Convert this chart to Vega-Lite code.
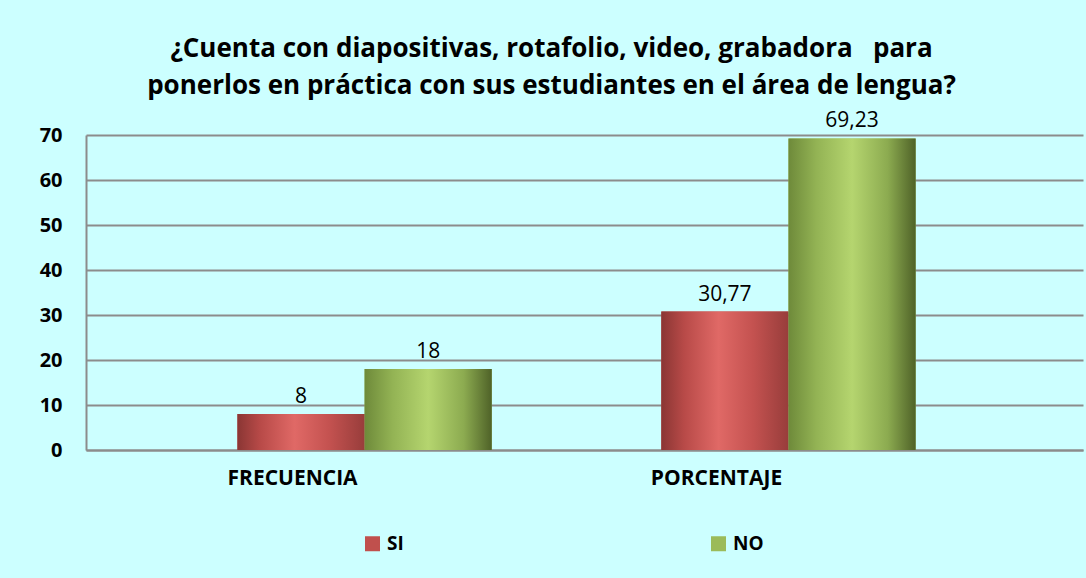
{
  "$schema": "https://vega.github.io/schema/vega-lite/v6.json",
  "width": 997,
  "height": 315,
  "autosize": {"type": "none"},
  "padding": {"left": 86, "top": 135, "right": 3, "bottom": 128},
  "background": "#CCFFFF",
  "config": {"view": {"stroke": null}, "font": "Open Sans"},
  "title": {
    "text": ["¿Cuenta con diapositivas, rotafolio, video, grabadora\u00a0\u00a0\u00a0para", "ponerlos en práctica con sus estudiantes en el área de lengua?"],
    "font": "Open Sans",
    "fontSize": 26,
    "fontWeight": "bold",
    "color": "#000000",
    "anchor": "middle",
    "frame": "group",
    "dx": -33,
    "offset": 11,
    "lineHeight": 37
  },
  "data": {
    "values": [
      {"cat": "FRECUENCIA", "serie": "SI", "valor": 8, "label": "8"},
      {"cat": "FRECUENCIA", "serie": "NO", "valor": 18, "label": "18"},
      {"cat": "PORCENTAJE", "serie": "SI", "valor": 30.77, "label": "30,77"},
      {"cat": "PORCENTAJE", "serie": "NO", "valor": 69.23, "label": "69,23"}
    ]
  },
  "encoding": {
    "x": {
      "field": "cat",
      "type": "nominal",
      "sort": ["FRECUENCIA", "PORCENTAJE"],
      "scale": {"paddingInner": 0.4, "paddingOuter": 0.376, "align": 0.475},
      "axis": {
        "title": null,
        "labelAngle": 0,
        "ticks": false,
        "grid": false,
        "domainColor": "#8C8C8C",
        "domainWidth": 2,
        "labelFont": "Open Sans",
        "labelFontWeight": "bold",
        "labelFontSize": 21,
        "labelColor": "#000000",
        "labelPadding": 17,
        "labelOffset": -72
      }
    },
    "xOffset": {
      "field": "serie",
      "type": "nominal",
      "sort": ["SI", "NO"],
      "scale": {"paddingInner": 0, "paddingOuter": 0}
    },
    "y": {
      "field": "valor",
      "type": "quantitative",
      "scale": {"domain": [0, 70]},
      "axis": {
        "title": null,
        "values": [0, 10, 20, 30, 40, 50, 60, 70],
        "ticks": false,
        "domainColor": "#8C8C8C",
        "domainWidth": 2,
        "gridColor": "#8C8C8C",
        "gridWidth": 2,
        "gridOpacity": 1,
        "labelFont": "Open Sans",
        "labelFontWeight": "bold",
        "labelFontSize": 20,
        "labelColor": "#000000",
        "labelPadding": 24
      }
    }
  },
  "layer": [
    {
      "mark": {"type": "bar"},
      "encoding": {
        "color": {
          "field": "serie",
          "type": "nominal",
          "scale": {"domain": ["SI", "NO"], "range": ["#C0504D", "#9BBB59"]},
          "legend": {
            "title": null,
            "orient": "none",
            "legendX": 277,
            "legendY": 399,
            "direction": "horizontal",
            "symbolType": "square",
            "symbolSize": 225,
            "symbolStrokeWidth": 0,
            "labelFont": "Open Sans",
            "labelFontSize": 19,
            "labelFontWeight": "bold",
            "labelColor": "#000000",
            "labelOffset": 5,
            "columnPadding": 305
          }
        }
      }
    },
    {
      "transform": [{"filter": "datum.serie === 'SI'"}],
      "mark": {
        "type": "bar",
        "color": {
          "gradient": "linear",
          "x1": 0, "x2": 1, "y1": 0, "y2": 0,
          "stops": [
            {"offset": 0, "color": "#8A3634"},
            {"offset": 0.18, "color": "#B84A48"},
            {"offset": 0.45, "color": "#E06966"},
            {"offset": 0.72, "color": "#C45250"},
            {"offset": 1, "color": "#983D3B"}
          ]
        }
      }
    },
    {
      "transform": [{"filter": "datum.serie === 'NO'"}],
      "mark": {
        "type": "bar",
        "color": {
          "gradient": "linear",
          "x1": 0, "x2": 1, "y1": 0, "y2": 0,
          "stops": [
            {"offset": 0, "color": "#6E8A3A"},
            {"offset": 0.22, "color": "#93B354"},
            {"offset": 0.5, "color": "#B5D56F"},
            {"offset": 0.78, "color": "#8CAB50"},
            {"offset": 1, "color": "#4F6228"}
          ]
        }
      }
    },
    {
      "mark": {"type": "text", "baseline": "bottom", "dy": -7, "fontSize": 21, "font": "Open Sans", "color": "#000000"},
      "encoding": {"text": {"field": "label", "type": "nominal"}}
    }
  ]
}
